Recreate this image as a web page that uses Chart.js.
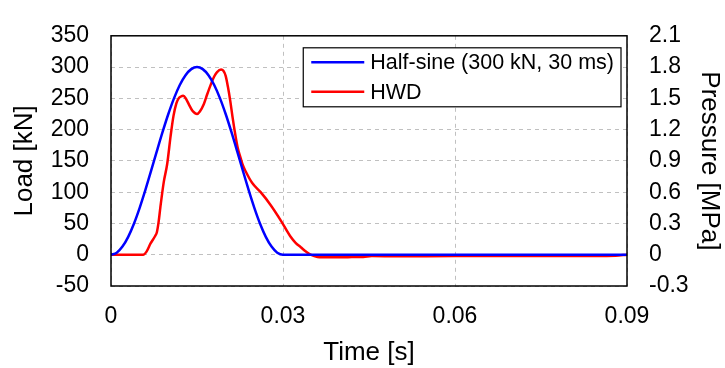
<!DOCTYPE html>
<html>
<head>
<meta charset="utf-8">
<script src="https://cdn.jsdelivr.net/npm/chart.js@4.4.0/dist/chart.umd.min.js"></script>
<style>
  body { margin: 0; background: #fff; }
  canvas { display: block; }
</style>
</head>
<body>
<canvas id="chart" width="725" height="368"></canvas>
<script>
// time in seconds, load in kN
const sineTime = [0, 0.001, 0.002, 0.003, 0.004, 0.005, 0.006, 0.007, 0.008, 0.009, 0.010,
  0.011, 0.012, 0.013, 0.014, 0.015, 0.016, 0.017, 0.018, 0.019, 0.020,
  0.021, 0.022, 0.023, 0.024, 0.025, 0.026, 0.027, 0.028, 0.029, 0.030, 0.090];
const sineLoad = [0, 3.3, 13.0, 28.6, 49.6, 75.0, 103.7, 134.3, 165.7, 196.4, 225.0,
  250.4, 271.4, 287.0, 296.7, 300.0, 296.7, 287.0, 271.4, 250.4, 225.0,
  196.4, 165.7, 134.3, 103.7, 75.0, 49.6, 28.6, 13.0, 3.3, 0, 0];

const hwdTime = [0, 0.0056, 0.0062, 0.0069, 0.0077, 0.0080, 0.0083, 0.0086, 0.0092, 0.0098,
  0.0104, 0.0109, 0.0114, 0.0118, 0.0122, 0.0126, 0.0131, 0.0136, 0.0142, 0.0147,
  0.0150, 0.0155, 0.0162, 0.0168, 0.0174, 0.0180, 0.0185, 0.0192, 0.0196, 0.0200,
  0.0204, 0.0208, 0.0212, 0.0217, 0.0221, 0.0226, 0.0230, 0.0235, 0.0246, 0.0261,
  0.0278, 0.0296, 0.0313, 0.0322, 0.0331, 0.0340, 0.0348, 0.0360, 0.038, 0.040,
  0.042, 0.044, 0.0455, 0.050, 0.060, 0.070, 0.080, 0.088, 0.090];
const hwdLoad = [0, 0, 5, 18, 30, 36, 52, 75, 116, 145,
  190, 222, 242, 250, 253, 254, 249, 240, 230, 226,
  225, 229, 241, 257, 272, 285, 292, 296, 294, 286,
  268, 246, 220, 191, 171, 155, 143, 133, 115, 100,
  80, 55, 29, 19, 12, 5, 0, -3.5, -4, -4,
  -3.8, -3.5, -2, -2.5, -2, -2, -2, -1.5, 0];

const timeTicks = [0, 0.03, 0.06, 0.09];
const timeLabels = ['0', '0.03', '0.06', '0.09'];
const loadTicks = [-50, 0, 50, 100, 150, 200, 250, 300, 350];
const pressureTicks = [-0.3, 0, 0.3, 0.6, 0.9, 1.2, 1.5, 1.8, 2.1];
const pressureLabels = ['-0.3', '0', '0.3', '0.6', '0.9', '1.2', '1.5', '1.8', '2.1'];

const FONT = "'Liberation Sans', Arial, sans-serif";

const toPoints = (xs, ys) => xs.map((x, i) => ({ x: x, y: ys[i] }));

// frame around the plot + legend box inside the top right corner
const framePlugin = {
  id: 'frame',
  afterDatasetsDraw(chart) {
    const { ctx, chartArea } = chart;
    ctx.save();
    ctx.strokeStyle = '#000';
    ctx.lineWidth = 1.5;
    ctx.strokeRect(chartArea.left, chartArea.top, chartArea.right - chartArea.left, chartArea.bottom - chartArea.top);

    ctx.font = '21.5px ' + FONT;
    const sets = chart.data.datasets;
    let textW = 0;
    sets.forEach(ds => { textW = Math.max(textW, ctx.measureText(ds.label).width); });
    const boxW = 8 + 53 + 6 + textW + 7;
    const boxH = 59;
    const bx = chartArea.right - 6 - boxW;
    const by = chartArea.top + 12;
    ctx.fillStyle = '#fff';
    ctx.fillRect(bx, by, boxW, boxH);
    ctx.lineWidth = 1.2;
    ctx.strokeRect(bx, by, boxW, boxH);
    sets.forEach((ds, i) => {
      const y = by + 14.5 + i * 29.5;
      ctx.strokeStyle = ds.borderColor;
      ctx.lineWidth = 2.5;
      ctx.beginPath();
      ctx.moveTo(bx + 8, y);
      ctx.lineTo(bx + 61, y);
      ctx.stroke();
      ctx.fillStyle = '#000';
      ctx.textBaseline = 'middle';
      ctx.textAlign = 'left';
      ctx.fillText(ds.label, bx + 67, y + 1);
    });
    ctx.restore();
  }
};

const setTicks = (values) => (scale) => {
  scale.ticks = values.map(v => ({ value: v }));
};

const config = {
  type: 'line',
  data: {
    datasets: [
      {
        label: 'Half-sine (300 kN, 30 ms)',
        data: toPoints(sineTime, sineLoad),
        borderColor: 'rgb(0, 0, 255)',
        borderWidth: 2.5,
        pointRadius: 0,
        cubicInterpolationMode: 'monotone',
        yAxisID: 'y'
      },
      {
        label: 'HWD',
        data: toPoints(hwdTime, hwdLoad),
        borderColor: 'rgb(255, 0, 0)',
        borderWidth: 2.5,
        pointRadius: 0,
        cubicInterpolationMode: 'monotone',
        yAxisID: 'y'
      }
    ]
  },
  options: {
    responsive: false,
    animation: false,
    layout: { padding: { top: 21, left: 0, right: 0, bottom: 0 } },
    plugins: {
      legend: { display: false },
      tooltip: { enabled: false }
    },
    scales: {
      x: {
        type: 'linear',
        min: 0,
        max: 0.09,
        afterBuildTicks: setTicks(timeTicks),
        afterFit: (scale) => { scale.height = 82; },
        grid: { color: '#c0c0c0', lineWidth: 1, drawTicks: false },
        border: { display: false, dash: [4, 4] },
        ticks: {
          padding: 17,
          color: '#000',
          font: { family: FONT, size: 23 },
          callback: (v, i) => timeLabels[i]
        },
        title: {
          display: true,
          text: 'Time [s]',
          color: '#000',
          font: { family: FONT, size: 26 },
          padding: { top: 0, bottom: 0 }
        }
      },
      y: {
        type: 'linear',
        position: 'left',
        min: -50,
        max: 350,
        afterBuildTicks: setTicks(loadTicks),
        afterFit: (scale) => { scale.width = 111; },
        grid: { color: '#c0c0c0', lineWidth: 1, drawTicks: false },
        border: { display: false, dash: [4, 4] },
        ticks: {
          padding: 22,
          color: '#000',
          font: { family: FONT, size: 23 }
        },
        title: {
          display: true,
          text: 'Load [kN]',
          color: '#000',
          font: { family: FONT, size: 26 },
          padding: { top: 9, bottom: 0 }
        }
      },
      y2: {
        type: 'linear',
        position: 'right',
        min: -0.3,
        max: 2.1,
        afterBuildTicks: setTicks(pressureTicks),
        afterFit: (scale) => { scale.width = 98; },
        grid: { display: false, drawTicks: false },
        border: { display: false },
        ticks: {
          padding: 22,
          color: '#000',
          font: { family: FONT, size: 23 },
          callback: (v, i) => pressureLabels[i]
        },
        title: {
          display: true,
          text: 'Pressure [MPa]',
          color: '#000',
          font: { family: FONT, size: 26 },
          padding: { top: 0, bottom: 0 }
        }
      }
    }
  },
  plugins: [framePlugin]
};

new Chart(document.getElementById('chart'), config);
</script>
</body>
</html>
